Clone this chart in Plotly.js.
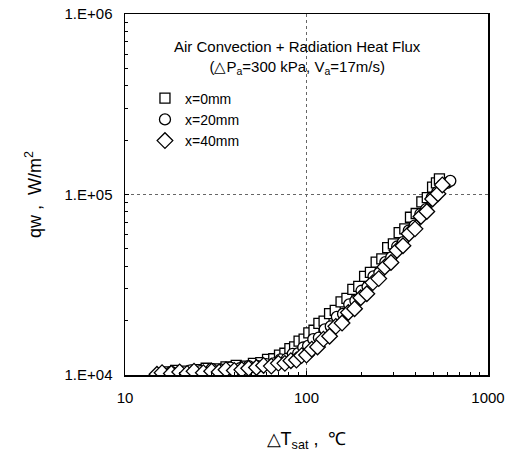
<!DOCTYPE html>
<html>
<head>
<meta charset="utf-8">
<script src="https://cdn.plot.ly/plotly-3.0.1.min.js"></script>
<style>html,body{margin:0;padding:0;background:#fff;}#chart{width:510px;height:460px;}</style>
</head>
<body>
<div id="chart"></div>
<script>
// x = 0 mm (squares)
const x0mm = [17,19,22,25,28,32,36,41,46,51,56,61,66,71,76,81,86,91,97,103,110,117,125,134,144,155,167,180,194,209,225,242,260,280,301,324,348,374,402,432,463,495,520,540];
const y0mm = [1.04e4,1.06e4,1.05e4,1.07e4,1.09e4,1.08e4,1.11e4,1.13e4,1.12e4,1.16e4,1.17e4,1.22e4,1.23e4,1.29e4,1.32e4,1.40e4,1.43e4,1.54e4,1.58e4,1.71e4,1.77e4,1.93e4,1.99e4,2.19e4,2.28e4,2.54e4,2.66e4,2.98e4,3.10e4,3.52e4,3.70e4,4.22e4,4.40e4,5.08e4,5.32e4,6.15e4,6.45e4,7.48e4,7.85e4,9.10e4,9.60e4,1.10e5,1.16e5,1.22e5];
// x = 20 mm (circles)
const x20mm = [16,18,20,23,26,30,34,38,43,48,54,60,66,72,78,84,90,96,102,109,117,126,136,147,159,172,186,201,217,234,252,272,293,316,340,366,394,424,456,490,525,560,595,620];
const y20mm = [1.02e4,1.04e4,1.03e4,1.06e4,1.05e4,1.08e4,1.07e4,1.10e4,1.09e4,1.12e4,1.12e4,1.15e4,1.16e4,1.22e4,1.23e4,1.31e4,1.32e4,1.42e4,1.45e4,1.58e4,1.61e4,1.79e4,1.86e4,2.10e4,2.18e4,2.46e4,2.58e4,2.93e4,3.08e4,3.52e4,3.68e4,4.22e4,4.48e4,5.15e4,5.45e4,6.30e4,6.72e4,7.80e4,8.30e4,9.60e4,1.03e5,1.13e5,1.16e5,1.19e5];
// x = 40 mm (diamonds)
const x40mm = [15,16,18,20,22,24,27,30,33,36,40,44,48,53,58,64,70,76,82,88,94,100,107,115,124,134,145,157,170,184,199,215,232,250,270,292,315,340,367,396,427,460,495,530,560];
const y40mm = [1.01e4,1.03e4,1.02e4,1.04e4,1.02e4,1.05e4,1.03e4,1.05e4,1.04e4,1.07e4,1.06e4,1.07e4,1.09e4,1.10e4,1.13e4,1.12e4,1.16e4,1.16e4,1.20e4,1.21e4,1.28e4,1.29e4,1.39e4,1.43e4,1.58e4,1.64e4,1.86e4,1.94e4,2.22e4,2.33e4,2.68e4,2.82e4,3.25e4,3.42e4,3.97e4,4.20e4,4.90e4,5.20e4,6.06e4,6.45e4,7.55e4,8.05e4,9.45e4,1.01e5,1.13e5];

const seriesNames = ['x=0mm','x=20mm','x=40mm'];
const xTickVals = [10,100,1000];
const xTickText = ['10','100','1000'];
const yTickVals = [1e4,1e5,1e6];
const yTickText = ['1.E+04','1.E+05','1.E+06'];
const xMinorVals = [20,30,40,50,60,70,80,90,200,300,400,500,600,700,800,900];
const yMinorVals = [2e4,3e4,4e4,5e4,6e4,7e4,8e4,9e4,2e5,3e5,4e5,5e5,6e5,7e5,8e5,9e5];

const FONT = 'Liberation Sans, Arial, sans-serif';
const mk = (sym, size) => ({symbol: sym, size: size, color: '#fff', line: {color: '#000', width: 1.3}});

const traces = [
  {x: x0mm, y: y0mm, name: seriesNames[0], mode: 'markers', type: 'scatter', marker: mk('square', 10)},
  {x: x20mm, y: y20mm, name: seriesNames[1], mode: 'markers', type: 'scatter', marker: mk('circle', 11)},
  {x: x40mm, y: y40mm, name: seriesNames[2], mode: 'markers', type: 'scatter', marker: mk('diamond', 12)}
];

const axisCommon = {
  type: 'log', showline: true, linecolor: '#000', linewidth: 1.5, mirror: true,
  ticks: 'inside', ticklen: 4, tickcolor: '#000',
  showgrid: true, gridcolor: '#666', griddash: 'dot', gridwidth: 1,
  zeroline: false,
  tickfont: {family: FONT, size: 15, color: '#000'}
};

const layout = {
  width: 510, height: 460,
  margin: {l: 125, r: 22, t: 14, b: 85},
  paper_bgcolor: '#fff', plot_bgcolor: '#fff',
  font: {family: FONT, color: '#000'},
  showlegend: true,
  legend: {x: 0.055, y: 0.81, xanchor: 'left', yanchor: 'top', bgcolor: 'rgba(0,0,0,0)',
           font: {family: FONT, size: 14, color: '#000'}, itemwidth: 30, tracegroupgap: 0},
  xaxis: Object.assign({}, axisCommon, {
    range: [1, 3], tickvals: xTickVals, ticktext: xTickText, ticklabelstandoff: 8,
    minor: {tickvals: xMinorVals, ticks: 'inside', ticklen: 3, tickcolor: '#000', showgrid: false},
    title: {text: '△T<sub>sat</sub> ,  ℃', font: {family: FONT, size: 18, color: '#000'}, standoff: 28}
  }),
  yaxis: Object.assign({}, axisCommon, {
    range: [4, 6], tickvals: yTickVals, ticktext: yTickText, ticklabelstandoff: 8,
    minor: {tickvals: yMinorVals, ticks: 'inside', ticklen: 3, tickcolor: '#000', showgrid: false},
    title: {text: 'qw ,  W/m<sup>2</sup>', font: {family: FONT, size: 18, color: '#000'}, standoff: 18}
  }),
  annotations: [
    {xref: 'paper', yref: 'paper', x: 0.475, y: 0.88, xanchor: 'center', yanchor: 'middle', showarrow: false,
     align: 'center',
     text: 'Air Convection + Radiation Heat Flux<br>(△P<sub>a</sub>=300 kPa, V<sub>a</sub>=17m/s)',
     font: {family: FONT, size: 15, color: '#000'}}
  ]
};

Plotly.newPlot('chart', traces, layout, {displayModeBar: false, staticPlot: true});
</script>
</body>
</html>
